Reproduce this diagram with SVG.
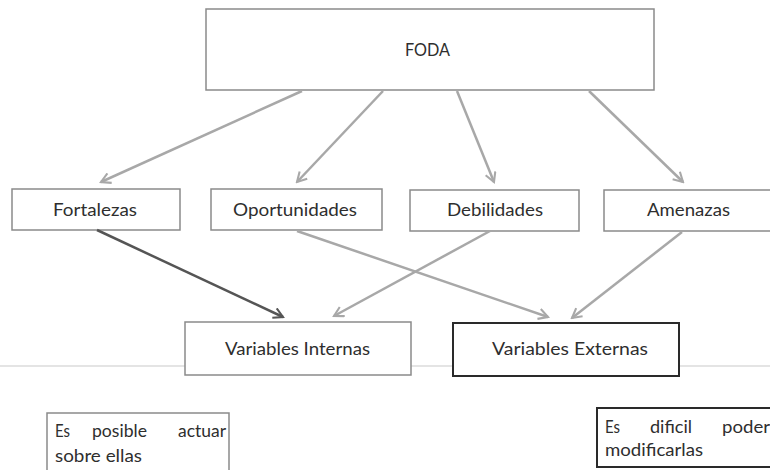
<svg xmlns="http://www.w3.org/2000/svg" width="770" height="470" viewBox="0 0 770 470">
<style>
  text { font-family: Lato, "Open Sans", "Liberation Sans", sans-serif; font-size: 17px; fill: #2e2e2e; }
  .box { fill: #fff; stroke: #8a8a8a; stroke-width: 1.5; }
  .dark { fill: #fff; stroke: #2a2a2a; stroke-width: 2; }
  .arr { fill: none; stroke: #a8a8a8; stroke-width: 2.5; }
  .arrd { fill: none; stroke: #555; stroke-width: 2.5; }
</style>
<defs>
  <marker id="ah" viewBox="0 0 12 12" refX="10" refY="6" markerWidth="5" markerHeight="5" orient="auto" markerUnits="strokeWidth">
    <path d="M1,1 L10,6 L1,11" fill="none" stroke="#a8a8a8" stroke-width="2"/>
  </marker>
  <marker id="ahd" viewBox="0 0 12 12" refX="10" refY="6" markerWidth="5" markerHeight="5" orient="auto" markerUnits="strokeWidth">
    <path d="M1,1 L10,6 L1,11" fill="none" stroke="#555" stroke-width="2"/>
  </marker>
</defs>
<rect width="770" height="470" fill="#fff"/>
<line x1="0" y1="366" x2="770" y2="366" stroke="#e4e4e4" stroke-width="2"/>

<g id="foda">
  <rect class="box" x="206" y="9" width="448" height="81"/>
  <text x="405" y="56" textLength="45" lengthAdjust="spacingAndGlyphs" font-size="15">FODA</text>
</g>
<g id="fortalezas">
  <rect class="box" x="12" y="189" width="168" height="41"/>
  <text x="53" y="216" textLength="84" lengthAdjust="spacingAndGlyphs">Fortalezas</text>
</g>
<g id="oportunidades">
  <rect class="box" x="211" y="189" width="171" height="41"/>
  <text x="233" y="216" textLength="124" lengthAdjust="spacingAndGlyphs">Oportunidades</text>
</g>
<g id="debilidades">
  <rect class="box" x="410" y="190" width="169" height="41"/>
  <text x="447" y="216" textLength="96" lengthAdjust="spacingAndGlyphs">Debilidades</text>
</g>
<g id="amenazas">
  <rect class="box" x="604" y="190" width="170" height="41"/>
  <text x="647" y="216" textLength="83" lengthAdjust="spacingAndGlyphs">Amenazas</text>
</g>
<g id="internas">
  <rect class="box" x="185" y="322" width="226" height="53"/>
  <text x="225" y="355" textLength="145" lengthAdjust="spacingAndGlyphs">Variables Internas</text>
</g>
<g id="externas">
  <rect class="dark" x="453" y="323" width="226" height="53"/>
  <text x="492" y="355" textLength="156" lengthAdjust="spacingAndGlyphs">Variables Externas</text>
</g>
<g id="posible">
  <rect class="box" x="47" y="413" width="182" height="70"/>
  <text x="55" y="437" textLength="15" lengthAdjust="spacingAndGlyphs">Es</text>
  <text x="92" y="437" textLength="55" lengthAdjust="spacingAndGlyphs">posible</text>
  <text x="178" y="437" textLength="48" lengthAdjust="spacingAndGlyphs">actuar</text>
  <text x="55" y="462" textLength="87" lengthAdjust="spacingAndGlyphs">sobre ellas</text>
</g>
<g id="dificil">
  <rect class="dark" x="597" y="408" width="180" height="59"/>
  <text x="605" y="433" textLength="15" lengthAdjust="spacingAndGlyphs">Es</text>
  <text x="650" y="433" textLength="42" lengthAdjust="spacingAndGlyphs">dificil</text>
  <text x="722" y="433" textLength="48" lengthAdjust="spacingAndGlyphs">poder</text>
  <text x="605" y="456" textLength="98" lengthAdjust="spacingAndGlyphs">modificarlas</text>
</g>

<g id="connectors">
  <line class="arr" x1="302" y1="91" x2="101" y2="182" marker-end="url(#ah)"/>
  <line class="arr" x1="383" y1="91" x2="297" y2="182" marker-end="url(#ah)"/>
  <line class="arr" x1="457" y1="91" x2="494" y2="182" marker-end="url(#ah)"/>
  <line class="arr" x1="589" y1="91" x2="683" y2="182" marker-end="url(#ah)"/>
  <line class="arrd" x1="97" y1="230" x2="283" y2="317" marker-end="url(#ahd)"/>
  <line class="arr" x1="490" y1="231" x2="334" y2="316" marker-end="url(#ah)"/>
  <line class="arr" x1="297" y1="231" x2="548" y2="317" marker-end="url(#ah)"/>
  <line class="arr" x1="682" y1="232" x2="572" y2="318" marker-end="url(#ah)"/>
</g>
</svg>
